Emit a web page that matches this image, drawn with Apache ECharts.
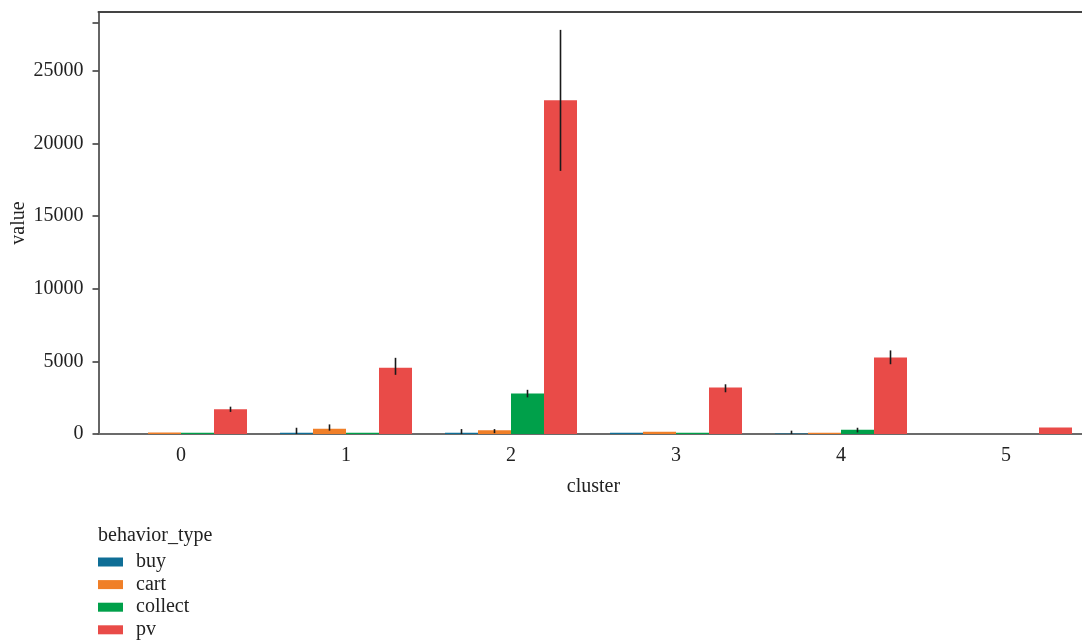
<!DOCTYPE html>
<html>
<head>
<meta charset="utf-8">
<script src="https://cdn.jsdelivr.net/npm/echarts@6/dist/echarts.min.js"></script>
<style>
html,body{margin:0;padding:0;background:#fff;}
#main{width:1082px;height:641px;}
</style>
</head>
<body>
<div id="main"></div>
<script>
// ---- data ----
const clusters = ['0', '1', '2', '3', '4', '5'];
const seriesNames = ['buy', 'cart', 'collect', 'pv'];
const buyValues = [0, 90, 90, 90, 40, 0];
const cartValues = [100, 365, 250, 160, 90, 0];
const collectValues = [90, 90, 2780, 90, 300, 0];
const pvValues = [1700, 4560, 22960, 3200, 5270, 440];
// error bar ranges [low, high] (null = none visible)
const buyErr = [null, [0, 430], [0, 340], null, [0, 230], null];
const cartErr = [null, [230, 660], [60, 340], null, null, null];
const collectErr = [null, null, [2520, 3040], null, [110, 430], null];
const pvErr = [[1520, 1880], [4070, 5240], [18100, 27800], [2870, 3420], [4800, 5750], null];
const yTicks = [0, 5000, 10000, 15000, 20000, 25000];
const yTickMarks = [0, 5000, 10000, 15000, 20000, 25000, 28320];
const yMax = 29030;

const colors = ['#0f6e96', '#f07f28', '#00a04a', '#e94b48'];
const allValues = [buyValues, cartValues, collectValues, pvValues];
const allErr = [buyErr, cartErr, collectErr, pvErr];
const FONT = 'Liberation Serif';
const FS = 20;

const chart = echarts.init(document.getElementById('main'));

const series = [];
seriesNames.forEach((name, k) => {
  series.push({
    name: name,
    type: 'bar',
    data: allValues[k],
    itemStyle: { color: colors[k] },
    barGap: '0%',
    barCategoryGap: '20%',
    silent: true
  });
});
seriesNames.forEach((name, k) => {
  const data = [];
  allErr[k].forEach((e, i) => { if (e) data.push([i, e[0], e[1]]); });
  series.push({
    type: 'custom',
    silent: true,
    z: 10,
    data: data,
    renderItem: function (params, api) {
      const cat = api.value(0);
      const lo = api.coord([cat, api.value(1)]);
      const hi = api.coord([cat, api.value(2)]);
      const band = api.size([1, 0])[0];
      const x = lo[0] + (k - 1.5) * band * 0.2;
      return {
        type: 'line',
        shape: { x1: x, y1: lo[1], x2: x, y2: hi[1] },
        style: { stroke: '#1a1a1a', lineWidth: 1.6 }
      };
    }
  });
});

chart.setOption({
  animation: false,
  backgroundColor: '#ffffff',
  grid: { left: 98.5, top: 12, right: -6.5, bottom: 207, containLabel: false, outerBoundsMode: 'none' },
  textStyle: { fontFamily: FONT },
  legend: {
    data: seriesNames,
    orient: 'vertical',
    left: 98,
    top: 552,
    padding: 0,
    height: 200,
    itemWidth: 25,
    itemHeight: 9,
    itemGap: 2.6,
    icon: 'rect',
    selectedMode: false,
    textStyle: { fontFamily: FONT, fontSize: FS, lineHeight: 19, color: '#222', padding: [0, 0, 0, 8] }
  },
  graphic: [{
    type: 'text',
    left: 98,
    top: 526,
    style: { text: 'behavior_type', font: FS + 'px "' + FONT + '"', fill: '#222' }
  }],
  xAxis: [{
    type: 'category',
    data: clusters,
    name: 'cluster',
    nameLocation: 'middle',
    nameGap: 43,
    nameMoveOverlap: false,
    nameTextStyle: { fontFamily: FONT, fontSize: FS, color: '#222' },
    axisLine: { lineStyle: { color: '#6b6b6b', width: 2 } },
    axisTick: { alignWithLabel: true, length: 6, lineStyle: { color: '#333', width: 1.5 } },
    axisLabel: { fontFamily: FONT, fontSize: FS, color: '#222', margin: 12 },
    splitLine: { show: false }
  }, {
    type: 'category',
    data: clusters,
    position: 'top',
    axisLine: { onZero: false, lineStyle: { color: '#444', width: 2 } },
    axisTick: { show: false },
    axisLabel: { show: false }
  }],
  yAxis: [{
    type: 'value',
    min: 0,
    max: yMax,
    interval: yTicks[1] - yTicks[0],
    name: 'value',
    nameLocation: 'middle',
    nameGap: 70,
    nameMoveOverlap: false,
    nameRotate: 90,
    nameTextStyle: { fontFamily: FONT, fontSize: FS, color: '#222' },
    axisLine: { show: true, lineStyle: { color: '#333', width: 1.5 } },
    axisTick: { show: true, length: 6, customValues: yTickMarks, lineStyle: { color: '#333', width: 1.5 } },
    axisLabel: { fontFamily: FONT, fontSize: FS, color: '#222', margin: 15, customValues: yTicks, formatter: function (v) { return String(v); } },
    splitLine: { show: false }
  }],
  series: series
});
</script>
</body>
</html>
